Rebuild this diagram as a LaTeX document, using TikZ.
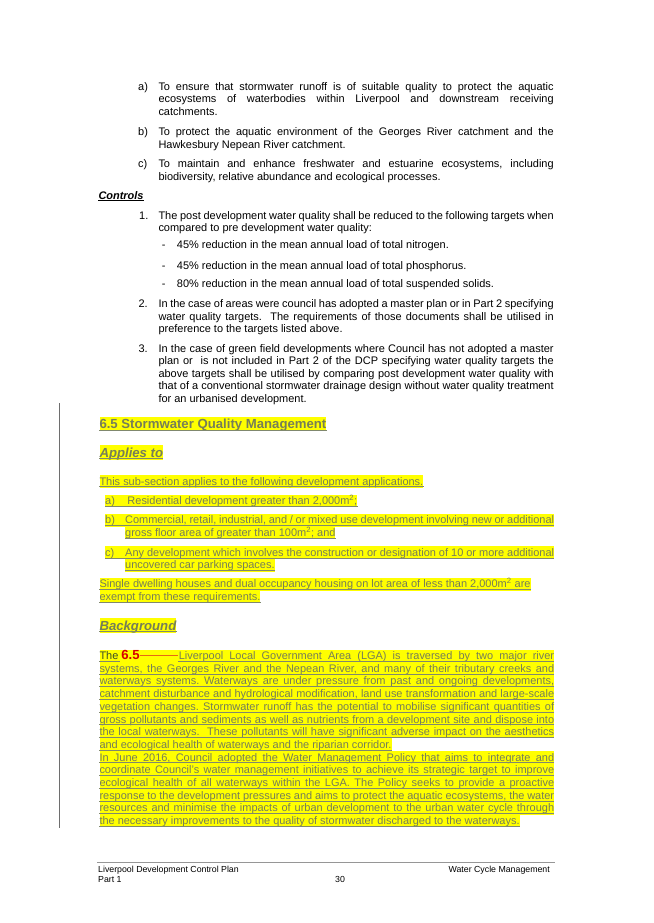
\documentclass[tikz,border=0pt]{standalone}
\usepackage{fontspec}
\usepackage{xcolor}
\setmainfont{Liberation Sans}
\usetikzlibrary{positioning}

\newcommand\tenpt{\fontsize{10.97}{12.45}\selectfont}
\newcommand\twelvept{\fontsize{13.17}{15.2}\selectfont}
\newcommand\eightpt{\fontsize{8.78}{10}\selectfont}
\newcommand\wordspace{\spaceskip=0pt\relax\xspaceskip=0pt\relax}
\newcommand\jt[1]{\hbox to\hsize{\wordspace#1}\par}
\newcommand\jl[2][454.7pt]{\hbox to #1{\wordspace#2}}

\definecolor{hlyellow}{RGB}{255,255,0}
\definecolor{instext}{RGB}{118,126,88}
\definecolor{ulcol}{RGB}{128,136,110}
\definecolor{thecol}{RGB}{60,80,40}
\definecolor{delred}{RGB}{215,0,0}
\definecolor{strikecol}{RGB}{230,105,20}
\definecolor{barcol}{RGB}{110,110,110}
\definecolor{footcol}{RGB}{150,150,150}

\begin{document}
\frenchspacing
\begin{tikzpicture}[x=1pt,y=-1pt,
    txt/.style={anchor=base west,inner sep=0pt,font=\tenpt},
    para/.style={txt,text width=395.2pt,execute at begin node=\wordspace},
    hl/.style={txt,fill=hlyellow,text=instext,text height=10pt,text depth=2.7pt},
    hlhead/.style={hl,font=\twelvept\bfseries,text height=11.9pt,text depth=2.8pt},
    ul/.style={draw=ulcol,line width=0.7pt},
    foot/.style={anchor=base west,inner sep=0pt,font=\eightpt}]
  \fill[white] (0,0) rectangle (653,923);
  \useasboundingbox (0,0) rectangle (653,923);

  % objectives
  \node[txt] (la) at (138,90.5) {a)};
  \node[para] (pa) at (158.3,90.5) {\jt{To ensure that stormwater runoff is of suitable quality to protect the aquatic}\jt{ecosystems of waterbodies within Liverpool and downstream receiving}catchments.};
  \node[txt] (lb) at (138,135.7) {b)};
  \node[para] (pb) at (158.3,135.7) {\jt{To protect the aquatic environment of the Georges River catchment and the}Hawkesbury Nepean River catchment.};
  \node[txt] (lc) at (138,167.7) {c)};
  \node[para] (pc) at (158.3,167.7) {\jt{To maintain and enhance freshwater and estuarine ecosystems, including}biodiversity, relative abundance and ecological processes.};

  % controls
  \node[txt,font=\tenpt\bfseries\itshape] (ctl) at (98.3,199) {Controls};
  \draw[line width=0.6pt] ([yshift=-1.6pt]ctl.base west) -- ([yshift=-1.6pt]ctl.base east);
  \node[txt] (l1) at (139,219) {1.};
  \node[para] (p1) at (158.3,219) {\jt{The post development water quality shall be reduced to the following targets when}compared to pre development water quality:};
  \node[txt] (d1) at (161.7,248.5) {-};
  \node[txt] (t1) at (176.7,248.5) {45\% reduction in the mean annual load of total nitrogen.};
  \node[txt] (d2) at (161.7,269) {-};
  \node[txt] (t2) at (176.7,269) {45\% reduction in the mean annual load of total phosphorus.};
  \node[txt] (d3) at (161.7,287.7) {-};
  \node[txt] (t3) at (176.7,287.7) {80\% reduction in the mean annual load of total suspended solids.};
  \node[txt] (l2) at (138.3,307.7) {2.};
  \node[para] (p2) at (158.3,307.7) {\jt{In the case of areas were council has adopted a master plan or in Part 2 specifying}\jt{water quality targets.\ \ The requirements of those documents shall be utilised in}preference to the targets listed above.};
  \node[txt] (l3) at (138.3,352.3) {3.};
  \node[para] (p3) at (158.3,352.3) {\jt{In the case of green field developments where Council has not adopted a master}\jt{plan or\ \ is not included in Part 2 of the DCP specifying water quality targets the}\jt{above targets shall be utilised by comparing post development water quality with}\jt{that of a conventional stormwater drainage design without water quality treatment}for an urbanised development.};

  % new section 6.5
  \draw[barcol,line width=0.8pt] (59.5,403) -- (59.5,828);
  \node[hlhead] (h65) at (99.3,428.5) {6.5 Stormwater Quality Management};
  \node[hlhead,font=\twelvept\bfseries\itshape] (apl) at (99.3,457) {Applies to};
  \node[hl] (sub) at (99.3,485) {This sub-section applies to the following development applications.};
  \node[hl] (ia) at (105,504.5) {\makebox[22.3pt][l]{a)}Residential development greater than 2,000m\textsuperscript{2};};
  \node[hl] (ib1) at (105,523.8) {\jl[449pt]{\makebox[20pt][l]{b)}Commercial, retail, industrial, and / or mixed use development involving new or additional}};
  \node[hl] (ib2) at (125,536.4) {gross floor area of greater than 100m\textsuperscript{2}; and};
  \node[hl] (ic1) at (105,556.2) {\jl[449pt]{\makebox[20pt][l]{c)}Any development which involves the construction or designation of 10 or more additional}};
  \node[hl] (ic2) at (125,568.8) {uncovered car parking spaces.\ };
  \node[hl] (ex1) at (99.3,587.8) {Single dwelling houses and dual occupancy housing on lot area of less than 2,000m\textsuperscript{2} are};
  \node[hl] (ex2) at (99.3,600.4) {exempt from these requirements.};
  \node[hlhead,font=\twelvept\bfseries\itshape] (bkg) at (99.3,630) {Background};
  \foreach \n in {h65,apl,sub,ia,ib1,ib2,ic1,ic2,ex1,ex2,bkg}
    \draw[ul] ([yshift=1.2pt]\n.south west) -- ([yshift=1.2pt]\n.south east);

  % background paragraph
  \node[hl] (bg1) at (99.3,659.5) {\jl{{\color{thecol}The}\kern3pt{\color{delred}\twelvept\bfseries 6.5}{\color{strikecol}\rule[3.2pt]{38.5pt}{0.9pt}}\kern0.6pt Liverpool Local Government Area (LGA) is traversed by two major river}};
  \draw[ul] ([yshift=1.2pt]bg1.south west) -- ++(20.5,0);
  \draw[ul] ([yshift=1.2pt,xshift=79pt]bg1.south west) -- ([yshift=1.2pt]bg1.south east);
  \foreach \txt [count=\i from 2] in {
      {\jl{systems, the Georges River and the Nepean River, and many of their tributary creeks and}},
      {\jl{waterways systems. Waterways are under pressure from past and ongoing developments,}},
      {\jl{catchment disturbance and hydrological modification, land use transformation and large-scale}},
      {\jl{vegetation changes. Stormwater runoff has the potential to mobilise significant quantities of}},
      {\jl{gross pollutants and sediments as well as nutrients from a development site and dispose into}},
      {\jl{the local waterways.\ \ These pollutants will have significant adverse impact on the aesthetics}},
      {and ecological health of waterways and the riparian corridor.},
      {\jl{In June 2016, Council adopted the Water Management Policy that aims to integrate and}},
      {\jl{coordinate Council's water management initiatives to achieve its strategic target to improve}},
      {\jl{ecological health of all waterways within the LGA. The Policy seeks to provide a proactive}},
      {\jl{response to the development pressures and aims to protect the aquatic ecosystems, the water}},
      {\jl{resources and minimise the impacts of urban development to the urban water cycle through}},
      {the necessary improvements to the quality of stormwater discharged to the waterways.}}{
    \node[hl] (bg\i) at (99.3,{659.5+12.7*(\i-1)}) {\txt};
    \draw[ul] ([yshift=1.2pt]bg\i.south west) -- ([yshift=1.2pt]bg\i.south east);
  }

  % footer
  \draw[footcol,line width=0.6pt] (97,862) -- (555,862);
  \node[foot] (fl1) at (98,872) {Liverpool Development Control Plan};
  \node[foot] (fl2) at (98,882) {Part 1};
  \node[foot] (fpg) at (335,882) {30};
  \node[foot,anchor=base east] (fr) at (550,872) {Water Cycle Management};
\end{tikzpicture}
\end{document}
